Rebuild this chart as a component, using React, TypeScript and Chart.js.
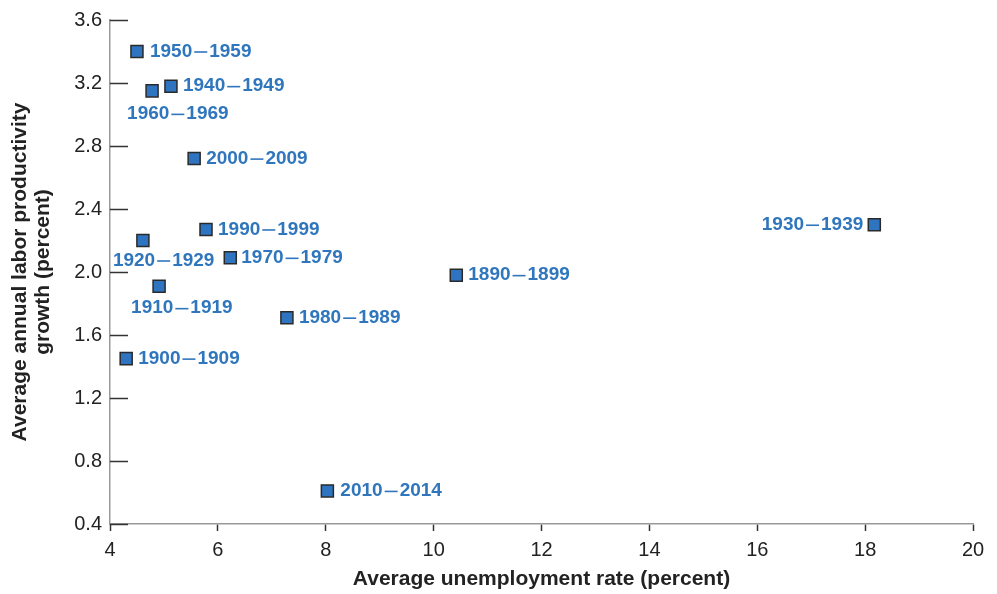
import React, { useEffect, useRef } from "react";
import { Chart, registerables } from "chart.js";

Chart.register(...registerables);

const decades = [
  "1950–1959", "1940–1949", "1960–1969", "2000–2009", "1990–1999",
  "1920–1929", "1970–1979", "1910–1919", "1980–1989", "1900–1909",
  "2010–2014", "1890–1899", "1930–1939",
];
const unemployment = [4.5, 5.13, 4.78, 5.56, 5.78, 4.61, 6.23, 4.91, 7.28, 4.3, 8.03, 10.42, 18.17];
const productivity = [3.4, 3.18, 3.15, 2.72, 2.27, 2.2, 2.09, 1.91, 1.71, 1.45, 0.61, 1.98, 2.3];
const xTicks = [4, 6, 8, 10, 12, 14, 16, 18, 20];
const yTicks = [0.4, 0.8, 1.2, 1.6, 2.0, 2.4, 2.8, 3.2, 3.6];

// label placement relative to each marker: [dx, dy, align]
const labelPlacement: [number, number, CanvasTextAlign][] = [
  [13, 0, "left"], [12, 0, "left"], [-25, 23, "left"], [12, 0, "left"], [12, 0, "left"],
  [-30, 20, "left"], [11, 0, "left"], [-28, 22, "left"], [12, 0, "left"], [12, 0, "left"],
  [13, 0, "left"], [12, 0, "left"], [-11, 0, "right"],
];

const FONT = "'Liberation Sans', Arial, Helvetica, sans-serif";
const DASH_W = 13;
const DASH_GAP = 2;

export default function App() {
  const ref = useRef<HTMLCanvasElement | null>(null);
  useEffect(() => {
    if (!ref.current) return;
    const labelPlugin = {
      id: "pointLabels",
      afterDatasetsDraw(chart: any) {
        const ctx = chart.ctx;
        const meta = chart.getDatasetMeta(0);
        ctx.save();
        ctx.font = `bold 19px ${FONT}`;
        ctx.fillStyle = "#2f76bd";
        ctx.strokeStyle = "#2f76bd";
        ctx.lineWidth = 1.6;
        ctx.textBaseline = "middle";
        ctx.textAlign = "left";
        meta.data.forEach((pt: any, i: number) => {
          const [dx, dy, align] = labelPlacement[i];
          const [a, b] = decades[i].split("–");
          const wa = ctx.measureText(a).width;
          const wb = ctx.measureText(b).width;
          const total = wa + wb + DASH_W + DASH_GAP * 2;
          let x = pt.x + dx;
          if (align === "right") x -= total;
          const y = pt.y + dy;
          ctx.fillText(a, x, y);
          const dx0 = x + wa + DASH_GAP;
          ctx.beginPath();
          ctx.moveTo(dx0, y + 0.5);
          ctx.lineTo(dx0 + DASH_W, y + 0.5);
          ctx.stroke();
          ctx.fillText(b, dx0 + DASH_W + DASH_GAP, y);
        });
        ctx.restore();
      },
    };
    const yTickPlugin = {
      id: "innerYTicks",
      afterDraw(chart: any) {
        const ctx = chart.ctx;
        const ys = chart.scales.y;
        const left = chart.chartArea.left;
        ctx.save();
        ctx.strokeStyle = "#333";
        ctx.lineWidth = 1.5;
        yTicks.forEach((v) => {
          const y = Math.round(ys.getPixelForValue(v)) + 0.5;
          ctx.beginPath();
          ctx.moveTo(left, y);
          ctx.lineTo(left + 18, y);
          ctx.stroke();
        });
        ctx.restore();
      },
    };
    const chart = new Chart(ref.current, {
      type: "scatter",
      data: {
        datasets: [
          {
            label: "Decades",
            data: unemployment.map((x, i) => ({ x, y: productivity[i] })),
            pointStyle: "rect",
            pointRadius: 8.5,
            pointHoverRadius: 8.5,
            backgroundColor: "#2f74c0",
            borderColor: "#2a2a2a",
            borderWidth: 1.5,
          },
        ],
      },
      options: {
        responsive: false,
        animation: false,
        layout: { padding: { top: 17, right: 24, left: 0, bottom: 0 } },
        plugins: { legend: { display: false }, tooltip: { enabled: false } },
        scales: {
          x: {
            type: "linear",
            min: 4,
            max: 20,
            afterBuildTicks: (s: any) => { s.ticks = xTicks.map((v) => ({ value: v })); },
            afterFit: (s: any) => { s.height = 70; },
            ticks: { font: { family: FONT, size: 20 }, color: "#222", padding: 7 },
            grid: { drawOnChartArea: false, drawTicks: true, tickLength: 7, color: "#333", tickWidth: 1.5 },
            border: { color: "#999", width: 1.5 },
            title: {
              display: true,
              text: "Average unemployment rate (percent)",
              font: { family: FONT, size: 21, weight: "bold" },
              color: "#222",
              padding: { top: 0, bottom: 2 },
            },
          },
          y: {
            type: "linear",
            min: 0.4,
            max: 3.6,
            afterBuildTicks: (s: any) => { s.ticks = yTicks.map((v) => ({ value: v })); },
            afterFit: (s: any) => { s.width = 110; },
            ticks: {
              font: { family: FONT, size: 20 },
              color: "#222",
              padding: 8,
              callback: (v: any) => Number(v).toFixed(1),
            },
            grid: { drawOnChartArea: false, drawTicks: false },
            border: { color: "#999", width: 1.5 },
            title: {
              display: true,
              text: ["Average annual labor productivity", "growth (percent)"],
              font: { family: FONT, size: 21, weight: "bold", lineHeight: 1.1 },
              color: "#222",
              padding: { top: 9, bottom: 0 },
            },
          },
        },
      },
      plugins: [labelPlugin, yTickPlugin],
    } as any);
    return () => chart.destroy();
  }, []);
  return (
    <div style={{ position: "fixed", left: 0, top: 0, width: 997, height: 594, background: "#fff" }}>
      <canvas ref={ref} width={997} height={594} style={{ display: "block" }} />
    </div>
  );
}
